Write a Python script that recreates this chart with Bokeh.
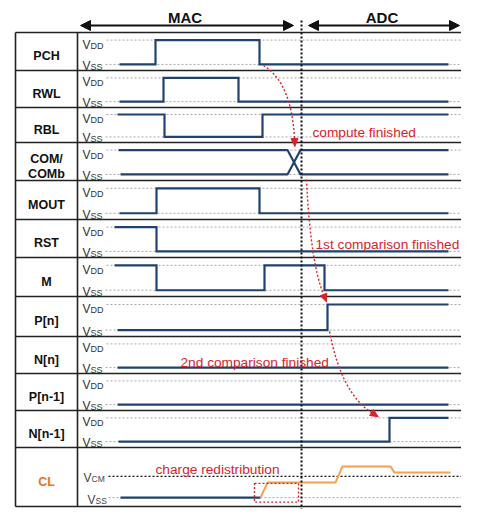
import numpy as np
from bokeh.plotting import figure
from bokeh.models import Range1d, Arrow, NormalHead
from bokeh.core.properties import value
from bokeh.embed import file_html
from bokeh.resources import INLINE

# ---------------- data ----------------
row_labels = ["PCH", "RWL", "RBL", "COM/COMb", "MOUT", "RST", "M",
              "P[n]", "N[n]", "P[n-1]", "N[n-1]", "CL"]
digital_names = ["PCH", "RWL", "RBL", "MOUT", "RST", "M",
                 "P[n]", "N[n]", "P[n-1]", "N[n-1]"]
digital_init = [0, 0, 1, 0, 1, 1, 0, 0, 0, 0]
digital_start = [119, 119, 117, 119, 114, 114, 117, 117, 117, 118]
digital_edges = [[155, 259], [163, 238], [164, 262], [156, 259], [156],
                 [156, 264, 324], [327], [], [], [389]]
t_end = 448
com_start = [118, 120]          # COM starts high, COMb starts low
com_cross = [287, 300]
cl_switch = 260
cl_t = [260, 267, 335, 342, 390, 394, 450]
cl_v = [0.0, 0.71, 0.71, 1.47, 1.47, 1.18, 1.18]   # in units of VCM
phase_labels = ["MAC", "ADC"]
phase_spans = [[80, 293], [308, 459]]
phase_boundary = 301
notes = ["compute finished", "1st comparison finished",
         "2nd comparison finished", "charge redistribution"]

# ---------------- layout / style ----------------
W, H = 461, 509
row_edges = [32, 70, 107, 142, 180, 219, 257, 296, 336, 373, 410, 447, 506]
NAVY = "#1f4270"
ORANGE = "#f7a04f"
RED = "#d9222a"
GRAY = "#a8a8a8"
FONT = value("Liberation Sans")

p = figure(width=W, height=H, x_range=Range1d(0, W), y_range=Range1d(H, 0),
           output_backend="svg", toolbar_location=None, min_border=0,
           x_axis_type=None, y_axis_type=None)
p.grid.visible = False
p.outline_line_color = None
p.background_fill_color = "white"


def row_geom(i):
    top, bot = row_edges[i], row_edges[i + 1]
    h = bot - top
    return top, bot, top + 0.2 * h, top + 0.84 * h


# table grid
p.segment(x0=[15] * len(row_edges), x1=[480] * len(row_edges), y0=row_edges, y1=row_edges,
          line_color="#222222", line_width=1.6)
p.segment(x0=[15, 77], x1=[15, 77], y0=[row_edges[0]] * 2, y1=[row_edges[-1]] * 2,
          line_color="#222222", line_width=1.6)

# row labels
lab_x, lab_y, lab_t, lab_c = [], [], [], []
for i, name in enumerate(row_labels):
    top, bot, vdd, vss = row_geom(i)
    c = (top + bot) / 2
    color = "#e8741c" if name == "CL" else "#111111"
    if "/" in name:
        a, b = name.split("/")
        lab_x += [46, 46]; lab_y += [c - 3, c + 12]; lab_t += [a + "/", b]; lab_c += [color, color]
    else:
        lab_x.append(46); lab_y.append(c + 4.5); lab_t.append(name); lab_c.append(color)
p.text(x=lab_x, y=lab_y, text=lab_t, text_color=lab_c, text_font=FONT,
       text_font_size=value("12.5px"), text_font_style="bold",
       text_align="center", text_baseline="alphabetic")

# VDD / VSS reference lines & labels for the digital rows
vx, vy, sx, sy, st = [], [], [], [], []
for i, name in enumerate(row_labels[:-1]):
    top, bot, vdd, vss = row_geom(i)
    p.line([106, 470], [vdd, vdd], line_color=GRAY, line_width=1, line_dash="2 2")
    p.line([105, 470], [vss, vss], line_color=GRAY, line_width=1, line_dash="2 2")
    vx += [82, 82]; vy += [vdd + 4.5, vss + 1.5]
    sx += [90, 90]; sy += [vdd + 5.5, vss + 2.5]; st += ["DD", "SS"]
p.text(x=vx, y=vy, text=["V"] * len(vx), text_color="#333333", text_font=FONT,
       text_font_size=value("12px"), text_baseline="alphabetic")
p.text(x=sx, y=sy, text=st, text_color="#333333", text_font=FONT,
       text_font_size=value("9px"), text_baseline="alphabetic")

# digital waveforms
for name, lvl, t0, edges in zip(digital_names, digital_init, digital_start, digital_edges):
    i = row_labels.index(name)
    top, bot, vdd, vss = row_geom(i)
    ypos = {1: vdd, 0: vss}
    xs, ys = [t0], [ypos[lvl]]
    for t in edges:
        xs += [t, t]
        ys += [ypos[lvl], ypos[1 - lvl]]
        lvl = 1 - lvl
    xs.append(t_end); ys.append(ypos[lvl])
    p.line(xs, ys, line_color=NAVY, line_width=2.2, line_join="miter")

# COM / COMb crossing
i = row_labels.index("COM/COMb")
top, bot, vdd, vss = row_geom(i)
p.line([com_start[0], com_cross[0], com_cross[1], t_end], [vdd, vdd, vss, vss],
       line_color=NAVY, line_width=2.2)
p.line([com_start[1], com_cross[0], com_cross[1], t_end], [vss, vss, vdd, vdd],
       line_color=NAVY, line_width=2.2)

# CL row
i = row_labels.index("CL")
top, bot = row_edges[i], row_edges[i + 1]
h = bot - top
vcm_y = top + 0.49 * h
vss_y = top + 0.85 * h
p.line([108, 470], [vcm_y, vcm_y], line_color="#111111", line_width=1.4, line_dash="2 2")
p.line([108, 470], [vss_y, vss_y], line_color=GRAY, line_width=1, line_dash="2 2")
p.text(x=[83, 87], y=[vcm_y + 1.5, vss_y + 2], text=["V", "V"], text_color="#444444",
       text_font=FONT, text_font_size=value("12px"), text_baseline="alphabetic")
p.text(x=[91, 95], y=[vcm_y + 2.5, vss_y + 3], text=["CM", "SS"], text_color="#444444",
       text_font=FONT, text_font_size=value("8.5px"), text_baseline="alphabetic")
p.line([120, cl_switch], [vss_y, vss_y], line_color=NAVY, line_width=2.2)
cl_y = [vss_y - v * (vss_y - vcm_y) for v in cl_v]
p.line(cl_t, cl_y, line_color=ORANGE, line_width=2)

# red dashed box around the first charge-sharing step
p.quad(left=[254], right=[298], top=[vcm_y + 7], bottom=[vss_y + 4.5], fill_color=None,
       line_color=RED, line_width=1.4, line_dash="2 2")

# phase boundary
p.line([phase_boundary, phase_boundary], [20, 530], line_color="#111111",
       line_width=2, line_dash="2 2")

# phase arrows and labels
for (a, b), lab in zip(phase_spans, phase_labels):
    p.add_layout(Arrow(x_start=a, y_start=25, x_end=b, y_end=25, line_width=2,
                       line_color="#111111",
                       start=NormalHead(size=10, fill_color="#111111", line_color="#111111"),
                       end=NormalHead(size=10, fill_color="#111111", line_color="#111111")))
    p.text(x=[(a + b) / 2 - 2], y=[17.3], text=[lab], text_font=FONT, text_font_size=value("15px"),
           text_font_style="bold", text_color="#111111", text_align="center",
           text_baseline="alphabetic")

# red dashed curved arrows
curves = [((263, 65), (291, 82), (294, 138)),
          ((306, 179), (310, 262), (323, 294)),
          ((329, 331), (341, 393), (371, 412))]
for (s, c, e) in curves:
    p.quadratic(x0=[s[0]], y0=[s[1]], x1=[e[0]], y1=[e[1]], cx=[c[0]], cy=[c[1]],
                line_color=RED, line_width=1.4, line_dash="2 2")
    d = np.array(e, float) - np.array(c, float)
    d /= np.linalg.norm(d)
    n = np.array([-d[1], d[0]])
    tip = np.array(e, float) + 8 * d
    b1 = np.array(e, float) + 3.5 * n
    b2 = np.array(e, float) - 3.5 * n
    p.patch([tip[0], b1[0], b2[0]], [tip[1], b1[1], b2[1]], fill_color=RED, line_color=RED)

# annotation texts
p.text(x=[312, 315, 180, 155], y=[131.5, 244, 361.5, 469], text=notes, text_color=RED,
       text_font=FONT, text_font_size=value("13.7px"), text_baseline="alphabetic")

open("out.html", "w").write(file_html(p, INLINE))
